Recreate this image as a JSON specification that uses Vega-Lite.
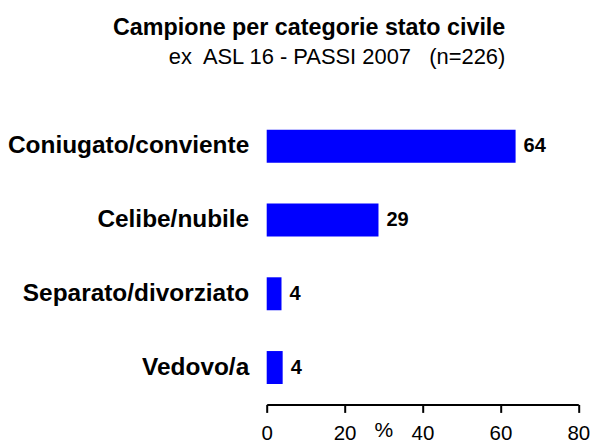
{
  "$schema": "https://vega.github.io/schema/vega-lite/v6.json",
  "width": 311.6,
  "height": 295,
  "autosize": {"type": "none"},
  "padding": {"left": 266.7, "top": 109.4, "right": 14.7, "bottom": 39.6},
  "background": "white",
  "config": {
    "view": {"stroke": null},
    "font": "Liberation Sans"
  },
  "title": {
    "text": "Campione per categorie stato civile",
    "subtitle": "ex\u00a0 ASL 16 - PASSI 2007 \u00a0 (n=226)",
    "anchor": "end",
    "frame": "group",
    "dx": -73,
    "font": "Liberation Sans",
    "fontSize": 23.3,
    "fontWeight": "bold",
    "color": "black",
    "subtitleFont": "Liberation Sans",
    "subtitleFontSize": 21.9,
    "subtitleColor": "black",
    "subtitlePadding": 6,
    "offset": 41
  },
  "data": {
    "values": [
      {"categoria": "Coniugato/conviente", "valore": 63.9, "etichetta": "64"},
      {"categoria": "Celibe/nubile", "valore": 28.7, "etichetta": "29"},
      {"categoria": "Separato/divorziato", "valore": 3.8, "etichetta": "4"},
      {"categoria": "Vedovo/a", "valore": 4.1, "etichetta": "4"}
    ]
  },
  "encoding": {
    "y": {
      "field": "categoria",
      "type": "nominal",
      "sort": null,
      "scale": {"paddingInner": 0.553, "paddingOuter": 0.2765},
      "axis": {
        "title": null,
        "domain": false,
        "ticks": false,
        "labelPadding": 18,
        "labelFontSize": 24.4,
        "labelFontWeight": "bold",
        "labelColor": "black",
        "labelFont": "Liberation Sans",
        "labelLimit": 0
      }
    },
    "x": {
      "field": "valore",
      "type": "quantitative",
      "scale": {"domain": [0, 80], "nice": false},
      "axis": {
        "values": [0, 20, 40, 60, 80],
        "grid": false,
        "title": "%",
        "titleFont": "Liberation Sans",
        "titleFontSize": 21,
        "titleFontWeight": "normal",
        "titleColor": "black",
        "titleX": 116.6,
        "titleY": 15.5,
        "titleAlign": "center",
        "titleBaseline": "top",
        "domainColor": "black",
        "domainWidth": 2,
        "tickColor": "black",
        "tickWidth": 2,
        "tickSize": 8,
        "labelFont": "Liberation Sans",
        "labelFontSize": 20.5,
        "labelColor": "black",
        "labelPadding": 11,
        "labelFlush": false
      }
    }
  },
  "layer": [
    {"mark": {"type": "bar", "color": "#0000FF"}},
    {
      "mark": {"type": "text", "align": "left", "baseline": "middle", "dx": 8, "fontSize": 20, "fontWeight": "bold", "color": "black", "font": "Liberation Sans"},
      "encoding": {"text": {"field": "etichetta"}}
    }
  ]
}
